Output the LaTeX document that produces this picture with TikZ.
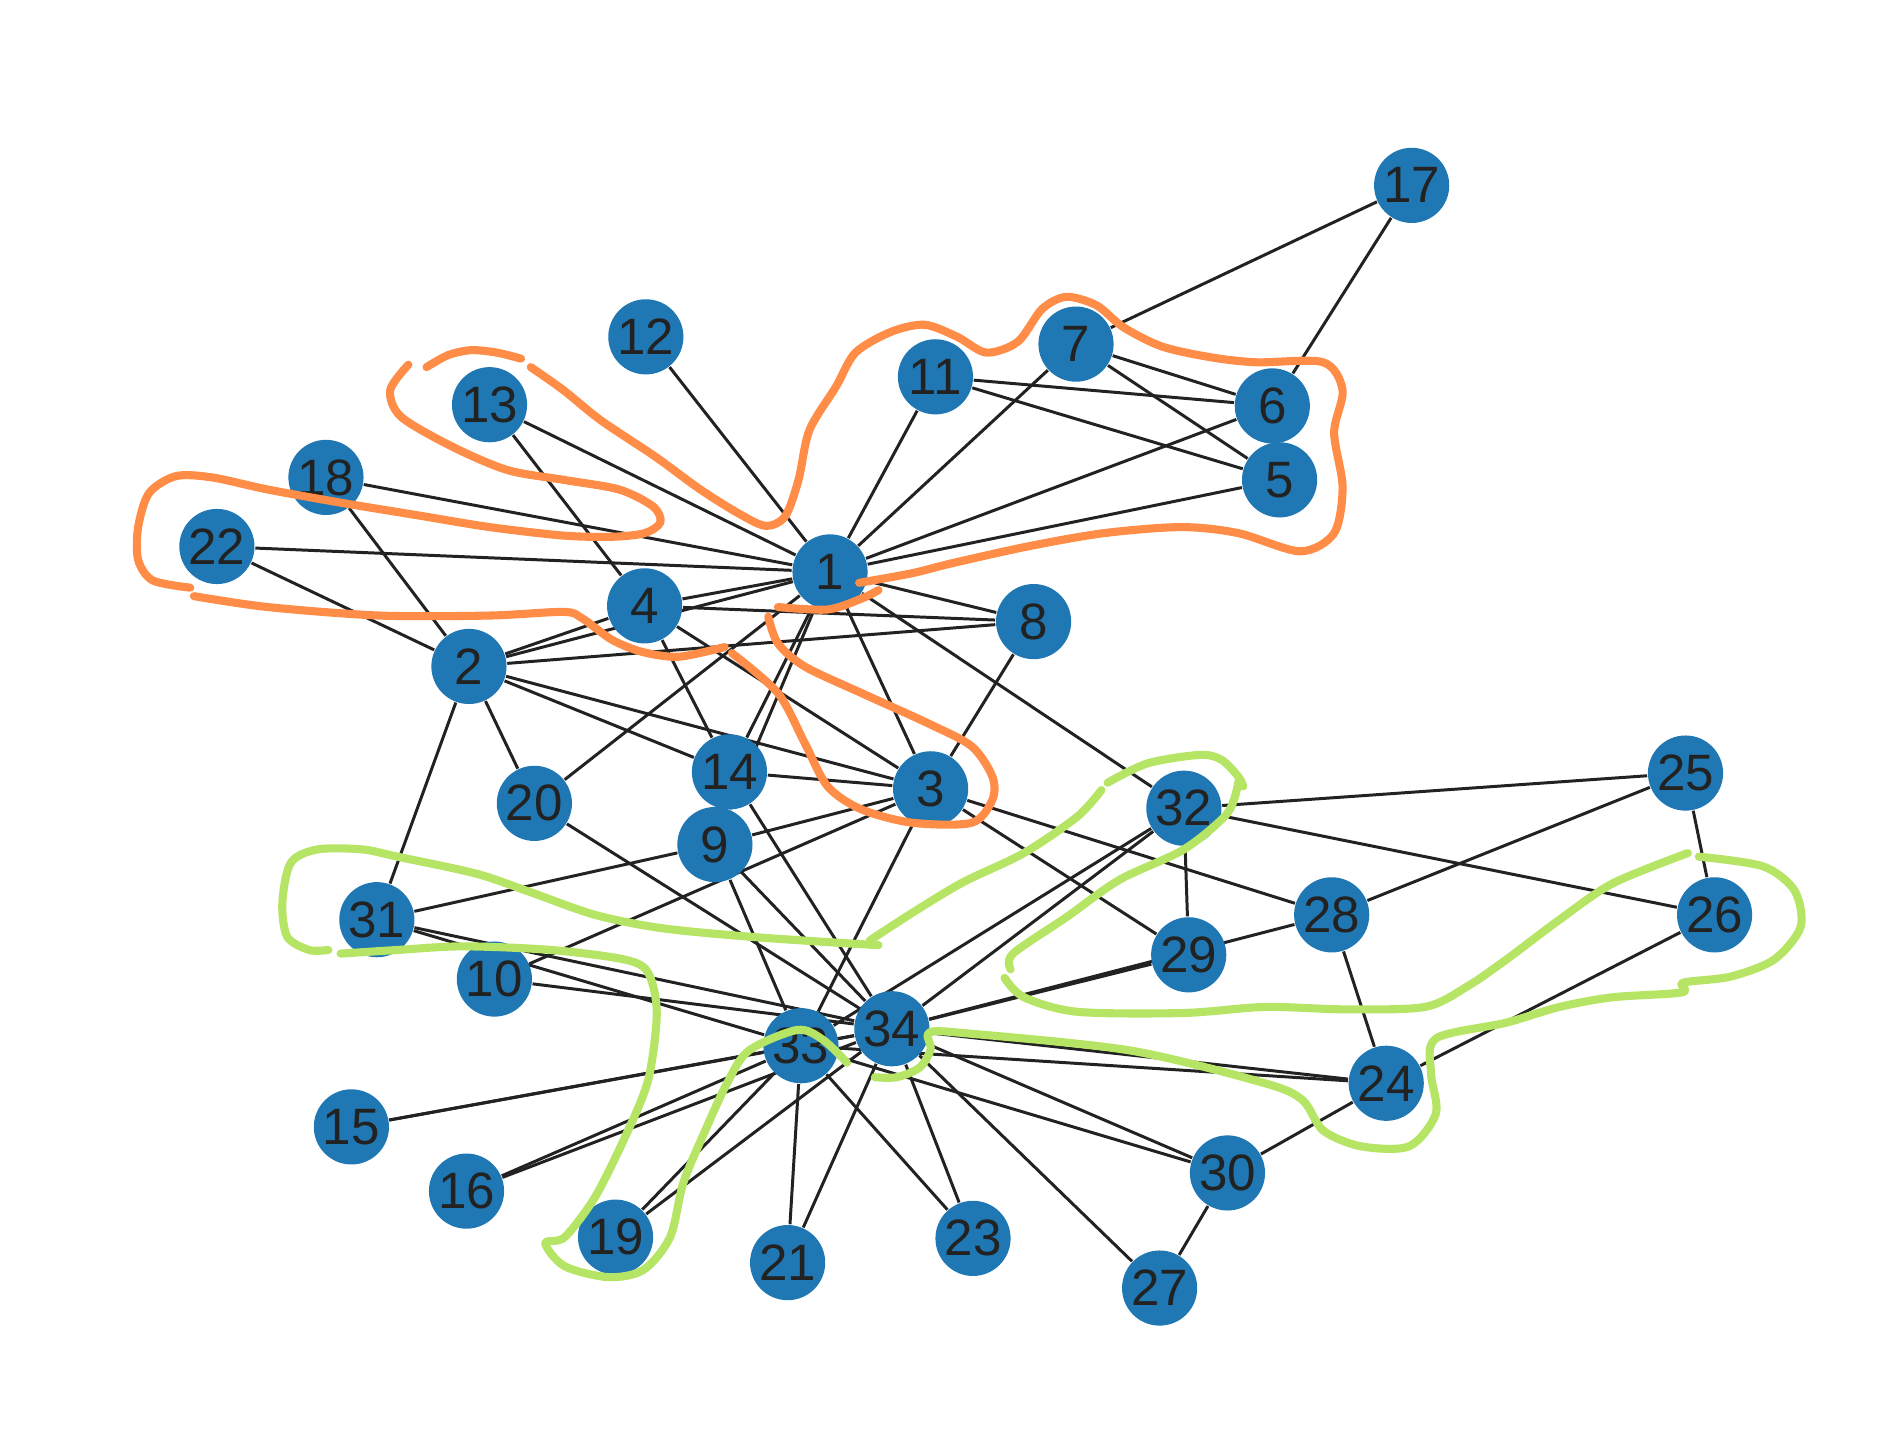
\documentclass[tikz,border=0pt]{standalone}
\usepackage{fontspec}
\setmainfont{Liberation Sans}
\usepackage{xcolor}
\definecolor{nodeblue}{RGB}{31,119,180}
\definecolor{edgegray}{RGB}{34,34,34}
\definecolor{markorange}{RGB}{255,140,71}
\definecolor{markgreen}{RGB}{182,228,100}
\usepackage{tikz}
\usetikzlibrary{backgrounds}

\begin{document}
\begin{tikzpicture}[
    x=0.01cm, y=-0.01cm,
    font=\fontsize{12}{12}\selectfont,
    member/.style={circle, fill=nodeblue, minimum size=0.62cm, inner sep=0pt, text=edgegray},
    tie/.style={draw=edgegray, line width=0.7pt},
    scribble/.style={line width=1.9pt, line cap=round, line join=round},
]
\useasboundingbox (0,0) rectangle (1568,1183);

% club members
\foreach \id/\px/\py in {1/685/472, 2/387/550, 3/768/651, 4/532/500, 5/1056/396,
    6/1050/335, 7/888/284, 8/853/513, 9/590/697, 10/408/808, 11/772/311,
    12/533/278, 13/404/334, 14/602/637, 15/290/930, 16/385/983, 17/1165/153,
    18/269/394, 19/508/1021, 20/441/663, 21/650/1042, 22/179/451, 23/803/1022,
    24/1144/894, 25/1391/638, 26/1415/755, 27/957/1063, 28/1099/755,
    29/981/788, 30/1013/968, 31/311/759, 32/977/667, 33/661/863, 34/736/849}
  \node[member] (n\id) at (\px,\py) {\id};

% friendships
\begin{pgfonlayer}{background}
\foreach \a/\b in {1/2, 1/3, 1/4, 1/5, 1/6, 1/7, 1/8, 1/9, 1/11, 1/12, 1/13,
    1/14, 1/18, 1/20, 1/22, 1/32, 2/3, 2/4, 2/8, 2/14, 2/18, 2/20, 2/22, 2/31,
    3/4, 3/8, 3/9, 3/10, 3/14, 3/28, 3/29, 3/33, 4/8, 4/13, 4/14, 5/7, 5/11,
    6/7, 6/11, 6/17, 7/17, 9/31, 9/33, 9/34, 10/34, 14/34, 15/33, 15/34,
    16/33, 16/34, 19/33, 19/34, 20/34, 21/33, 21/34, 23/33, 23/34, 24/26,
    24/28, 24/30, 24/33, 24/34, 25/26, 25/28, 25/32, 26/32, 27/30, 27/34,
    28/34, 29/32, 29/34, 30/33, 30/34, 31/33, 31/34, 32/33, 32/34, 33/34}
  \draw[tie] (n\a) -- (n\b);
\end{pgfonlayer}

% orange marks
\begin{scope}[scribble, draw=markorange]
\draw plot[smooth] coordinates {(438,303) (465,322) (496,347) (541,377) (578,404)
    (610,424) (632,434) (648,426) (659,396) (668,355) (690,319) (706,291) (735,274)
    (763,268) (790,278) (814,291) (840,282) (860,255) (880,245) (905,252) (927,270)
    (959,286) (1000,295) (1037,299) (1092,299) (1108,322) (1101,357) (1108,402)
    (1101,440) (1073,455) (1022,440) (975,435) (911,440) (848,451) (785,465)
    (753,473) (709,481)};
\draw plot[smooth] coordinates {(352,303) (370,293) (389,289) (410,291) (430,296)};
\draw plot[smooth] coordinates {(337,301) (322,322) (331,344) (374,369) (419,388)
    (465,396) (511,404) (539,418) (545,431) (532,440) (505,443) (465,442) (404,435)
    (343,425) (282,415) (221,404) (175,394) (145,393) (123,407) (114,435) (114,462)
    (126,479) (157,485)};
\draw plot[smooth] coordinates {(160,492) (221,501) (313,508) (404,508) (465,505)
    (480,510) (505,528) (530,538) (560,542) (598,534)};
\draw plot[smooth] coordinates {(604,539) (642,572) (664,613) (683,649) (711,668)
    (753,679) (802,679) (819,660) (819,641) (802,616) (766,597) (711,572) (664,550)
    (642,531) (634,509)};
\draw plot[smooth] coordinates {(642,501) (683,503) (711,494) (725,487)};
\end{scope}

% green marks
\begin{scope}[scribble, draw=markgreen]
\draw plot[smooth] coordinates {(271,784) (255,784) (237,773) (233,745) (240,712)
    (262,701) (299,701) (328,707) (393,721) (437,736) (491,755) (546,766) (618,773)
    (691,778) (725,780)};
\draw plot[smooth] coordinates {(718,776) (755,752) (795,728) (845,704) (889,674)
    (909,652)};
\draw plot[smooth] coordinates {(914,646) (947,630) (990,623) (1008,627) (1022,641)
    (1026,649)};
\draw plot[smooth] coordinates {(1022,645) (1013,671) (977,701) (924,726) (880,757)
    (836,787) (834,800)};
\draw plot[smooth] coordinates {(829,807) (845,823) (889,835) (977,836) (1044,831)
    (1110,833) (1176,831) (1211,814) (1243,792) (1287,759) (1331,729) (1393,704)};
\draw plot[smooth] coordinates {(1402,707) (1455,715) (1481,735) (1486,765)
    (1464,792) (1428,806) (1389,811) (1388,819) (1331,823) (1287,831) (1243,844)
    (1185,857) (1181,886) (1185,919) (1163,946) (1123,946) (1092,933) (1075,908)
    (1044,894) (933,867) (800,853) (767,852) (768,866) (759,881) (740,889) (722,889)};
\draw plot[smooth] coordinates {(281,787) (328,784) (382,781) (455,784) (516,792)
    (535,803) (542,836) (535,891) (516,938) (491,988) (466,1021) (450,1026)
    (466,1045) (502,1054) (531,1048) (553,1021) (564,976) (582,933) (600,894)
    (618,867) (658,850) (679,858) (699,877)};
\end{scope}

\end{tikzpicture}
\end{document}
